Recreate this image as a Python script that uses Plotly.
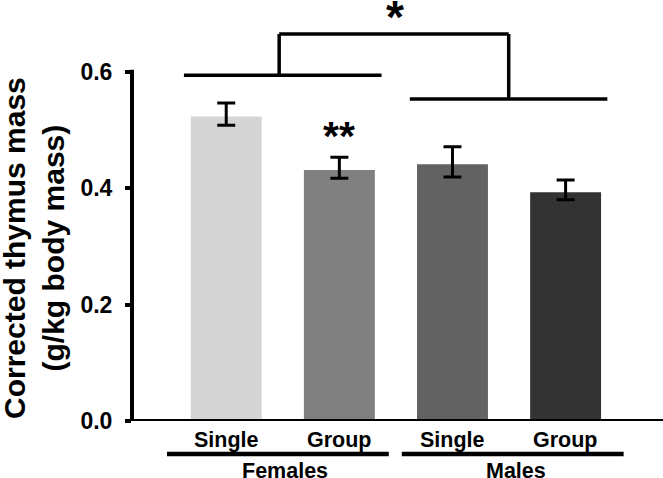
import plotly.graph_objects as go

# ---- data ----
categories = ["Single", "Group", "Single", "Group"]
groups = ["Females", "Males"]
means = [0.523, 0.431, 0.441, 0.393]
err_plus = [0.023, 0.022, 0.030, 0.021]
err_minus = [0.015, 0.014, 0.022, 0.013]
bar_colors = ["#d5d5d5", "#808080", "#626262", "#333333"]
y_ticks = [0.0, 0.2, 0.4, 0.6]
y_tick_labels = ["0.0", "0.2", "0.4", "0.6"]
y_title = "Corrected thymus mass<br>(g/kg body mass)"

FONT = "Liberation Sans, Arial, sans-serif"
W, H = 663, 478
ML, MB = 132, 57
pos = list(range(len(means)))

fig = go.Figure()
fig.add_trace(go.Bar(
    x=pos, y=means, width=0.627,
    marker=dict(color=bar_colors, line=dict(width=0)),
    error_y=dict(type="data", symmetric=False, array=err_plus, arrayminus=err_minus,
                 color="black", thickness=3, width=9),
    hoverinfo="skip",
))

shapes = []
# y-axis line (0 to 0.6)
shapes.append(dict(type="line", xref="paper", yref="y", x0=0, x1=0, y0=-0.0035, y1=0.6035,
                   line=dict(color="black", width=4)))
# x-axis line
shapes.append(dict(type="line", xref="paper", yref="y", x0=-6.5/(W-ML), x1=1, y0=0, y1=0,
                   line=dict(color="black", width=4)))
# significance brackets
br = dict(color="black", width=3.5)
shapes += [
    dict(type="line", xref="x", yref="y", x0=-0.374, x1=1.373, y0=0.5938, y1=0.5938, line=br),
    dict(type="line", xref="x", yref="y", x0=1.623, x1=3.369, y0=0.553, y1=0.553, line=br),
    dict(type="line", xref="x", yref="y", x0=0.468, x1=2.497, y0=0.6647, y1=0.6647, line=br),
    dict(type="line", xref="x", yref="y", x0=0.468, x1=0.468, y0=0.5938, y1=0.6647, line=br),
    dict(type="line", xref="x", yref="y", x0=2.497, x1=2.497, y0=0.553, y1=0.6647, line=br),
]
# group underlines below x labels
ul = dict(color="black", width=4.5)
yl = (421 - 454) / 421
shapes += [
    dict(type="line", xref="x", yref="paper", x0=-0.524, x1=1.437, y0=yl, y1=yl, line=ul),
    dict(type="line", xref="x", yref="paper", x0=1.552, x1=3.513, y0=yl, y1=yl, line=ul),
]

annotations = []
lab_font = dict(family=FONT, size=21.5, color="black")
for i, c in enumerate(categories):
    annotations.append(dict(x=i, y=(421 - 440) / 421, xref="x", yref="paper", text=f"<b>{c}</b>",
                            showarrow=False, xanchor="center", yanchor="middle", font=lab_font))
for g, gx in zip(groups, [0.52, 2.56]):
    annotations.append(dict(x=gx, y=(421 - 471) / 421, xref="x", yref="paper", text=f"<b>{g}</b>",
                            showarrow=False, xanchor="center", yanchor="middle", font=lab_font))
# asterisks
annotations.append(dict(x=1.49, y=(421 - 17) / 582.2, xref="x", yref="y", text="<b>*</b>",
                        showarrow=False, xanchor="center", yanchor="middle",
                        font=dict(family=FONT, size=46, color="black")))
annotations.append(dict(x=1, y=(421 - 136) / 582.2, xref="x", yref="y", text="<b>**</b>",
                        showarrow=False, xanchor="center", yanchor="middle",
                        font=dict(family=FONT, size=41, color="black")))
# y title
annotations.append(dict(x=(34 - ML) / (W - ML), y=(421 - 248) / 421, xref="paper", yref="paper",
                        text=f"<b>{y_title}</b>", textangle=-90, showarrow=False,
                        xanchor="center", yanchor="middle",
                        font=dict(family=FONT, size=30, color="black")))

fig.update_layout(
    width=W, height=H,
    margin=dict(l=ML, r=0, t=0, b=MB, pad=0, autoexpand=False),
    paper_bgcolor="white", plot_bgcolor="white",
    showlegend=False, hovermode=False,
    shapes=shapes, annotations=annotations,
    xaxis=dict(range=[-0.833, 3.861], showticklabels=False, showgrid=False, zeroline=False,
               showline=False, ticks="", fixedrange=True),
    yaxis=dict(range=[0, 421 / 582.2], tickvals=y_ticks, ticktext=[f"<b>{t}</b>" for t in y_tick_labels],
               ticks="outside", ticklen=6, tickwidth=4, tickcolor="black",
               tickfont=dict(family=FONT, size=23, color="black"), ticklabelstandoff=8,
               showgrid=False, zeroline=False, showline=False, automargin=False, fixedrange=True),
)

fig.write_html("out.html", config={"displayModeBar": False},
               post_script="document.body.style.margin='0';document.body.style.overflow='hidden';")
